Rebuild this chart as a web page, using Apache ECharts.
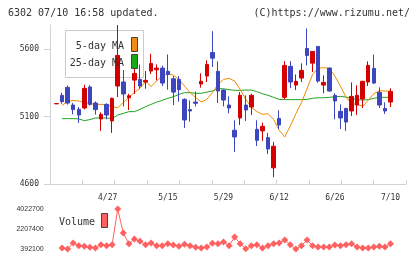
<!DOCTYPE html>
<html>
<head>
<meta charset="UTF-8">
<title>6302</title>
<style>html,body{margin:0;padding:0;background:#fff}</style>
</head>
<body>
<div id="main" style="width:420px;height:259px"></div>
<script src="https://cdn.jsdelivr.net/npm/echarts@6/dist/echarts.min.js"></script>
<script>
// trading days 4/13 - 7/10
var dates = ['4/13','4/14','4/15','4/16','4/17','4/20','4/21','4/22','4/23','4/24',
	'4/27','4/28','4/30','5/1','5/7','5/8','5/11','5/12','5/13','5/14',
	'5/15','5/18','5/19','5/20','5/21','5/22','5/25','5/26','5/27','5/28',
	'5/29','6/1','6/2','6/3','6/4','6/5','6/8','6/9','6/10','6/11',
	'6/12','6/15','6/16','6/17','6/18','6/19','6/22','6/23','6/24','6/25',
	'6/26','6/29','6/30','7/1','7/2','7/3','7/6','7/7','7/8','7/9','7/10'];

var openData = [5195,5258,5317,5186,5154,5164,5320,5201,5082,5191,
	5068,5327,5357,5240,5371,5376,5357,5438,5448,5460,
	5436,5381,5376,5228,5152,5208,5342,5401,5576,5436,
	5297,5186,4999,5090,5186,5171,5006,4994,4944,4720,
	5087,5243,5473,5334,5386,5606,5497,5621,5334,5460,
	5258,5139,5161,5142,5186,5231,5357,5458,5280,5161,5208];
var closeData = [5197,5211,5201,5152,5112,5310,5191,5152,5117,5112,
	5236,5554,5268,5255,5421,5327,5369,5495,5460,5349,
	5413,5282,5300,5075,5142,5199,5362,5487,5534,5290,
	5223,5164,4949,5258,5149,5258,4924,5028,4860,4880,
	5038,5480,5357,5362,5443,5554,5584,5364,5354,5290,
	5216,5090,5060,5250,5258,5362,5480,5349,5186,5142,5287];
var lowData = [5193,5196,5189,5117,5053,5154,5181,5115,4994,5080,
	4979,5245,5176,5149,5268,5307,5307,5416,5369,5327,
	5300,5186,5211,5016,5063,5176,5315,5357,5468,5201,
	5176,5124,4838,5038,5068,5112,4882,4920,4823,4650,
	5008,5228,5312,5297,5357,5480,5431,5352,5273,5285,
	5080,5008,4994,5105,5112,5164,5327,5342,5164,5120,5171];
var highData = [5198,5278,5332,5201,5171,5337,5332,5213,5132,5199,
	5240,5780,5446,5270,5460,5487,5438,5566,5487,5478,
	5561,5401,5401,5236,5221,5287,5421,5517,5734,5510,
	5302,5250,5073,5282,5258,5270,5073,5055,4979,4912,
	5147,5512,5512,5413,5495,5754,5584,5621,5406,5465,
	5273,5191,5165,5354,5332,5366,5510,5561,5317,5206,5310];

var ma5 = [null,5184,5211,5221,5216,5206,5196,5191,5191,5186,
	5176,5164,5206,5240,5280,5310,5360,5325,5365,5400,
	5418,5408,5376,5327,5278,5241,5208,5228,5278,5339,
	5376,5384,5364,5302,5228,5171,5137,5117,5122,5080,
	4999,4949,5031,5122,5203,5307,5413,5460,5463,5458,
	5401,5327,5245,5196,5191,5176,5221,5270,5292,5290,5290];
var ma25 = [null,5085,5085,5085,5083,5070,5078,5090,5090,5090,
	5085,5112,5124,5137,5137,5154,5174,5191,5208,5221,
	5236,5248,5265,5278,5278,5273,5273,5282,5290,5307,
	5307,5300,5295,5295,5297,5297,5285,5270,5258,5243,
	5228,5226,5226,5226,5226,5228,5236,5240,5240,5243,
	5248,5250,5245,5236,5226,5223,5226,5236,5243,5243,5243];

var volume = [null,483000,392100,937000,695000,634000,543000,483000,785000,695000,
	785000,4022700,1844000,876000,1300000,1088000,785000,937000,695000,695000,
	876000,755000,634000,816000,695000,543000,483000,574000,906000,876000,
	1027000,695000,1481000,876000,422000,695000,785000,483000,695000,876000,
	937000,1209000,785000,400000,695000,1209000,695000,574000,574000,574000,
	755000,695000,785000,876000,574000,483000,483000,574000,634000,574000,876000];

var priceTicks = [4600, 5100, 5600];
var volTicks = [392100, 2207400, 4022700];

var app = echarts.init(document.getElementById('main'));
var mono = 'DejaVu Sans Mono';
var axisGray = '#d2d2d2';
var textColor = '#333';
var plain = function(v) {
	return String(v);
};

var kData = [];
for (var i = 0; i < dates.length; i++) {
	kData.push([openData[i], closeData[i], lowData[i], highData[i]]);
}

option = {
	animation: false,
	backgroundColor: '#fff',
	grid: [
		{left: 50, right: 14, top: 25, height: 159},
		{left: 53.7, right: 26.7, top: 25, height: 159},
		{left: 53.7, right: 26.7, top: 209, height: 40}
	],
	xAxis: [{
		gridIndex: 0,
		type: 'value',
		min: 0,
		max: 11,
		interval: 1,
		axisLine: {lineStyle: {color: axisGray}},
		axisTick: {inside: true, length: 4, lineStyle: {color: axisGray}},
		axisLabel: {show: false},
		splitLine: {show: false}
	}, {
		gridIndex: 1,
		type: 'category',
		data: dates,
		axisLine: {show: false},
		axisTick: {show: false},
		splitLine: {show: false},
		axisLabel: {
			interval: function(index) {
				return index > 0 && index % 10 === 0;
			},
			margin: 10,
			fontFamily: mono,
			fontSize: 8,
			color: textColor,
			formatter: function(value, index) {
				return index === 10 ? '{s|' + value + '}' : value;
			},
			rich: {
				s: {fontFamily: mono, fontSize: 8, color: textColor, padding: [0, 9, 0, 0]}
			}
		}
	}, {
		gridIndex: 2,
		type: 'category',
		data: dates,
		show: false
	}],
	yAxis: [{
		gridIndex: 0,
		type: 'value',
		min: 4600,
		max: 5780,
		axisLine: {show: true, lineStyle: {color: axisGray}},
		axisTick: {show: true, length: 6, customValues: priceTicks, lineStyle: {color: axisGray}},
		axisLabel: {customValues: priceTicks, formatter: plain, margin: 11, fontFamily: mono, fontSize: 8, color: textColor},
		splitLine: {show: false}
	}, {
		gridIndex: 1,
		type: 'value',
		min: 4600,
		max: 5780,
		show: false,
		splitLine: {show: false}
	}, {
		gridIndex: 2,
		type: 'value',
		min: 392100,
		max: 4022700,
		axisLine: {show: false},
		axisTick: {show: false},
		splitLine: {show: false},
		axisLabel: {customValues: volTicks, formatter: plain, margin: 10, fontFamily: 'Liberation Sans', fontSize: 7, color: textColor}
	}],
	graphic: [
		{type: 'text', x: 8, y: 13, z: 100, style: {text: '6302 07/10 16:58 updated.', font: '10px "DejaVu Sans Mono"', fill: textColor, textVerticalAlign: 'middle', verticalAlign: 'middle'}},
		{type: 'text', x: 410, y: 13, z: 100, style: {text: '(C)https://www.rizumu.net/', font: '10px "DejaVu Sans Mono"', fill: textColor, textAlign: 'right', align: 'right', textVerticalAlign: 'middle', verticalAlign: 'middle'}},
		{type: 'rect', z: 1, shape: {x: 65.5, y: 30.5, width: 78, height: 47}, style: {fill: 'none', stroke: '#cccccc', lineWidth: 1}},
		{type: 'text', x: 124, y: 46, z: 100, style: {text: '5-day MA', font: '10px "DejaVu Sans Mono"', fill: textColor, textAlign: 'right', align: 'right', textVerticalAlign: 'middle', verticalAlign: 'middle'}},
		{type: 'text', x: 124, y: 63, z: 100, style: {text: '25-day MA', font: '10px "DejaVu Sans Mono"', fill: textColor, textAlign: 'right', align: 'right', textVerticalAlign: 'middle', verticalAlign: 'middle'}},
		{type: 'rect', z: 100, shape: {x: 131.5, y: 37.5, width: 6, height: 14}, style: {fill: '#f08c14', stroke: '#444', lineWidth: 1}},
		{type: 'rect', z: 100, shape: {x: 131.5, y: 54.5, width: 6, height: 14}, style: {fill: '#18a818', stroke: '#444', lineWidth: 1}},
		{type: 'text', x: 59, y: 222, z: 100, style: {text: 'Volume', font: '10px "DejaVu Sans Mono"', fill: textColor, textVerticalAlign: 'middle', verticalAlign: 'middle'}},
		{type: 'rect', z: 100, shape: {x: 101.5, y: 213.5, width: 6, height: 14}, style: {fill: '#ff6060', stroke: '#444', lineWidth: 1}}
	],
	series: [{
		name: '25-day MA',
		type: 'line',
		xAxisIndex: 1,
		yAxisIndex: 1,
		data: ma25,
		symbol: 'none',
		z: 1,
		lineStyle: {color: '#1ea51e', width: 1}
	}, {
		name: '5-day MA',
		type: 'line',
		xAxisIndex: 1,
		yAxisIndex: 1,
		data: ma5,
		symbol: 'none',
		z: 1,
		lineStyle: {color: '#f08c00', width: 1}
	}, {
		name: 'price',
		type: 'candlestick',
		xAxisIndex: 1,
		yAxisIndex: 1,
		data: kData,
		barWidth: 4,
		z: 3,
		itemStyle: {
			color: '#d40000',
			color0: '#3c46be',
			borderColor: '#d40000',
			borderColor0: '#3c46be',
			borderWidth: 1
		}
	}, {
		name: 'Volume',
		type: 'line',
		xAxisIndex: 2,
		yAxisIndex: 2,
		data: volume,
		symbol: 'diamond',
		symbolSize: 7,
		showAllSymbol: true,
		connectNulls: false,
		itemStyle: {color: '#ff6060'},
		lineStyle: {color: '#ff6060', width: 1}
	}]
};
app.setOption(option);
</script>
</body>
</html>
